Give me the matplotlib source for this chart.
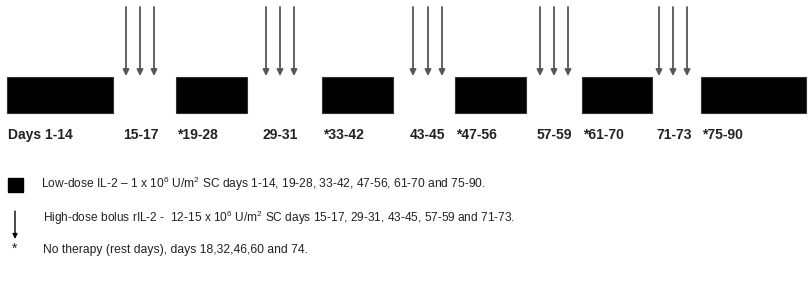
import matplotlib
matplotlib.use('Agg')
import matplotlib.pyplot as plt
from matplotlib import font_manager
from matplotlib.patches import Rectangle

names = {f.name for f in font_manager.fontManager.ttflist}
narrow = 'Liberation Sans'
for cand in ['Liberation Sans Narrow', 'DejaVu Sans Condensed']:
    if cand in names:
        narrow = cand
        break

plt.rcParams['font.family'] = ['Liberation Sans', 'DejaVu Sans']
plt.rcParams['mathtext.fontset'] = 'custom'
plt.rcParams['mathtext.rm'] = narrow

# low-dose blocks (schematic position along the timeline)
bar_starts = [7, 176, 322, 455, 582, 701]
bar_ends = [113, 247, 393, 526, 652, 806]
bar_labels = ['Days 1-14', '*19-28', '*33-42', '*47-56', '*61-70', '*75-90']

# high-dose bolus arrows, three per course
arrow_x = [[126, 140, 154], [266, 280, 294], [413, 428, 442],
           [540, 554, 568], [659, 673, 687]]
arrow_labels = ['15-17', '29-31', '43-45', '57-59', '71-73']

legend_texts = [
    r'Low-dose IL-2 – 1 x 10$^6$ U/m$^2$ SC days 1-14, 19-28, 33-42, 47-56, 61-70 and 75-90.',
    r'High-dose bolus rIL-2 -  12-15 x 10$^6$ U/m$^2$ SC days 15-17, 29-31, 43-45, 57-59 and 71-73.',
    'No therapy (rest days), days 18,32,46,60 and 74.',
]

fig = plt.figure(figsize=(8.09, 2.94), dpi=100)
ax = fig.add_axes([0, 0, 1, 1])
ax.set_xlim(0, 809)
ax.set_ylim(294, 0)
ax.axis('off')

bar_top, bar_bottom = 77, 113
label_y = 135
for x0, x1, lab in zip(bar_starts, bar_ends, bar_labels):
    ax.add_patch(Rectangle((x0, bar_top), x1 - x0, bar_bottom - bar_top,
                           facecolor='black', edgecolor='#333333', lw=0.8))
    ax.text(x0 + 1, label_y, lab, fontsize=10, fontweight='bold',
            ha='left', va='center', color='#222222')

for xs, lab in zip(arrow_x, arrow_labels):
    for x in xs:
        ax.annotate('', xy=(x, 76), xytext=(x, 7),
                    arrowprops=dict(arrowstyle='-|>', color='#555555', lw=1.3,
                                    mutation_scale=9, shrinkA=0, shrinkB=0))
    ax.text(xs[0] - 3, label_y, lab, fontsize=10, fontweight='bold',
            ha='left', va='center', color='#222222')

# legend
ax.add_patch(Rectangle((8, 178), 15, 14, facecolor='black', edgecolor='black'))
ax.annotate('', xy=(15, 239), xytext=(15, 211),
            arrowprops=dict(arrowstyle='-|>', color='black', lw=1.0,
                            mutation_scale=7, shrinkA=0, shrinkB=0))
ax.text(15, 249, '*', fontsize=10, ha='center', va='center', color='#222222')

legend_x = [41, 43, 43]
legend_y = [184, 218, 250]
legend_end = [484, 513, 305]
renderer = fig.canvas.get_renderer()
for x, y, t, xe in zip(legend_x, legend_y, legend_texts, legend_end):
    txt = ax.text(x, y, t, fontsize=11, family=narrow, ha='left', va='center',
                  color='#222222')
    w = txt.get_window_extent(renderer).width
    txt.set_fontsize(11 * (xe - x) / w)

fig.savefig('out.png', dpi=100)
